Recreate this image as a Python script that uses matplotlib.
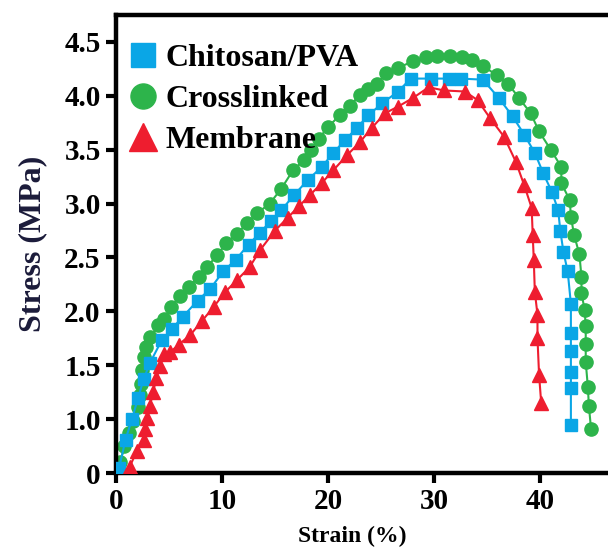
import matplotlib
matplotlib.use("Agg")
import matplotlib.pyplot as plt

# values (strain %, stress MPa on the plotted scale)
pva_x = [0.3, 0.9, 1.5, 2.1, 2.6, 3.2, 4.3, 5.3, 6.3, 7.7, 8.9, 10.1, 11.3, 12.5, 13.6, 14.6,
         15.6, 16.8, 18.1, 19.4, 20.5, 21.6, 22.7, 23.8, 25.1, 26.6, 27.8, 29.7, 31.4, 32.5,
         34.6, 36.1, 37.4, 38.5, 39.5, 40.3, 41.1, 41.7, 41.9, 42.2, 42.6, 42.9, 42.9, 42.9,
         42.9, 42.9, 42.9]
pva_y = [0.55, 0.81, 1.0, 1.2, 1.37, 1.52, 1.73, 1.84, 1.95, 2.10, 2.21, 2.37, 2.48, 2.62, 2.73,
         2.84, 2.94, 3.08, 3.22, 3.34, 3.47, 3.59, 3.70, 3.82, 3.93, 4.04, 4.16, 4.16, 4.16, 4.16,
         4.15, 3.98, 3.81, 3.64, 3.47, 3.28, 3.11, 2.94, 2.75, 2.55, 2.37, 2.07, 1.80, 1.63,
         1.44, 1.29, 0.95]

cross_x = [0.4, 0.8, 1.2, 1.6, 2.1, 2.25, 2.35, 2.45, 2.6, 2.85, 3.2, 4.0, 4.5, 5.2, 6.0, 6.9,
           7.8, 8.6, 9.5, 10.4, 11.4, 12.4, 13.3, 14.5, 15.6, 16.7, 17.7, 18.4, 19.1, 20.0,
           21.1, 22.1, 23.0, 23.8, 24.6, 25.5, 26.6, 28.0, 29.2, 30.3, 31.5, 32.6, 33.6, 34.6,
           35.9, 37.0, 38.0, 39.1, 39.9, 41.0, 42.0, 42.0, 42.8, 42.9, 43.2, 43.7, 43.9, 43.9,
           44.2, 44.3, 44.3, 44.3, 44.5, 44.6, 44.8]
cross_y = [0.6, 0.75, 0.87, 0.98, 1.11, 1.22, 1.33, 1.46, 1.58, 1.67, 1.76, 1.87, 1.93, 2.04,
           2.14, 2.23, 2.32, 2.41, 2.52, 2.63, 2.72, 2.82, 2.91, 3.0, 3.14, 3.31, 3.40, 3.50,
           3.60, 3.71, 3.82, 3.91, 4.01, 4.06, 4.11, 4.21, 4.26, 4.32, 4.36, 4.37, 4.37, 4.36,
           4.33, 4.28, 4.19, 4.11, 3.98, 3.84, 3.67, 3.50, 3.34, 3.19, 3.03, 2.88, 2.71, 2.53,
           2.32, 2.17, 2.01, 1.86, 1.70, 1.53, 1.30, 1.12, 0.91]

mem_x = [1.3, 1.95, 2.6, 2.7, 2.95, 3.2, 3.5, 3.8, 4.15, 4.5, 5.1, 5.9, 7.0, 8.1, 9.2, 10.3,
         11.4, 12.6, 13.6, 15.0, 16.2, 17.3, 18.3, 19.4, 20.5, 21.8, 23.0, 24.1, 25.4, 26.6,
         28.0, 29.5, 30.9, 32.9, 34.1, 35.3, 36.6, 37.7, 38.5, 39.2, 39.3, 39.4, 39.5, 39.75,
         39.75, 39.9, 40.1]
mem_y = [0.56, 0.70, 0.81, 0.91, 1.01, 1.12, 1.25, 1.38, 1.49, 1.60, 1.62, 1.69, 1.78, 1.91,
         2.04, 2.18, 2.29, 2.41, 2.57, 2.75, 2.87, 2.98, 3.08, 3.19, 3.31, 3.45, 3.57, 3.70,
         3.84, 3.90, 3.98, 4.08, 4.05, 4.04, 3.96, 3.79, 3.62, 3.39, 3.17, 2.96, 2.71, 2.48,
         2.18, 1.97, 1.75, 1.41, 1.15]

x_ticks = [0, 10, 20, 30, 40]
y_ticks = [0.5, 1.0, 1.5, 2.0, 2.5, 3.0, 3.5, 4.0, 4.5]
y_tick_labels = ["0", "1.0", "1.5", "2.0", "2.5", "3.0", "3.5", "4.0", "4.5"]

blue = "#0AA6E6"
green = "#2DB44B"
red = "#EE1D2F"

plt.rcParams["font.family"] = ["Liberation Serif", "DejaVu Serif"]
plt.rcParams["font.weight"] = "bold"

fig = plt.figure(figsize=(6.08, 5.48), dpi=100)
ax = fig.add_axes([116 / 608, 75 / 548, 492 / 608, 458 / 548])

ax.plot(pva_x, pva_y, color=blue, lw=1.5, marker="s", ms=9, mec=blue, mfc=blue,
        label="Chitosan/PVA", zorder=3)
ax.plot(cross_x, cross_y, color=green, lw=1.5, marker="o", ms=9.5, mec=green, mfc=green,
        label="Crosslinked", zorder=2)
ax.plot(mem_x, mem_y, color=red, lw=1.5, marker="^", ms=10.5, mec=red, mfc=red,
        label="Membrane", zorder=4)

ax.set_xlim(0, 46.4)
ax.set_ylim(0.5, 4.75)
ax.set_xticks(x_ticks)
ax.set_yticks(y_ticks)
ax.set_yticklabels(y_tick_labels)

for side in ["left", "top", "bottom"]:
    ax.spines[side].set_linewidth(3.2)
ax.spines["right"].set_visible(False)
ax.tick_params(axis="both", which="major", direction="out", length=7, width=3,
               labelsize=21, pad=4)

for lab in ax.get_xticklabels() + ax.get_yticklabels():
    lab.set_fontweight("bold")

ax.set_xlabel("Strain (%)", fontsize=17, fontweight="bold")
ax.xaxis.set_label_coords(0.48, -0.115)
ax.set_ylabel("Stress (MPa)", fontsize=23, fontweight="bold", color="#1b1b3a", labelpad=12)

leg = ax.legend(loc="upper left", bbox_to_anchor=(0.0, 0.975), frameon=False,
                markerscale=1.9, handlelength=0.6, handletextpad=0.4, labelspacing=0.36,
                prop={"size": 23, "weight": "bold"}, borderaxespad=0.15)
for h in leg.legend_handles:
    h.set_linestyle("none")

fig.savefig("out.png", dpi=100)
